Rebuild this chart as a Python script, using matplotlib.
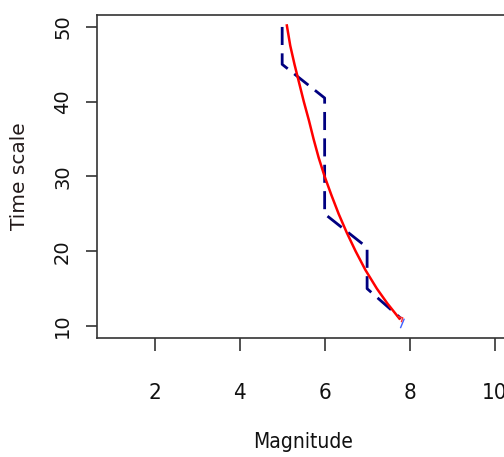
import matplotlib
matplotlib.use("Agg")
import matplotlib.pyplot as plt

# step series (blue dashed)
step_mag = [5.0, 5.0, 6.0, 6.0, 7.0, 7.0, 7.8]
step_time = [50, 45, 40.5, 25, 20.5, 15, 11]

# fitted curve (red)
fit_mag = [5.11, 5.19, 5.29, 5.40, 5.51, 5.63, 5.74, 5.86, 6.00, 6.16, 6.33, 6.52, 6.73, 6.96, 7.23, 7.48, 7.76]
fit_time = [50.2, 47.5, 45, 42.5, 40, 37.5, 35, 32.5, 30, 27.5, 25, 22.5, 20, 17.5, 15, 13, 11]

xticks = [2, 4, 6, 8, 10]
yticks = [10, 20, 30, 40, 50]

fig = plt.figure(figsize=(5.04, 4.57), dpi=100)
ax = fig.add_axes([0.1925, 0.2604, 0.819, 0.7068])

ax.plot(step_mag, step_time, color='#000080', lw=2.0, dashes=(6.5, 3))
ax.plot(fit_mag, fit_time, color='#ff0000', lw=1.8)

# tiny marks at the end of the curve
ax.plot([7.79, 7.87], [9.8, 10.9], color='#4060ff', lw=1)
ax.plot([7.74, 7.84, 7.81], [11.25, 11.1, 10.6], color='#ff3030', lw=1)

ax.set_xlim(0.64, 10.36)
ax.set_ylim(8.4, 51.6)
ax.set_xticks(xticks)
ax.set_yticks(yticks)

for s in ax.spines.values():
    s.set_color('#333333')
    s.set_linewidth(1.2)

ax.tick_params(axis='x', length=9.5, width=1.2, color='#333333', pad=23,
               labelsize=16, labelcolor='#111111')
ax.tick_params(axis='y', length=8, width=1.2, color='#333333', pad=10,
               labelsize=14, labelcolor='#111111', labelrotation=90)
for lbl in ax.get_xticklabels():
    lbl.set_stretch('condensed')
for lbl in ax.get_yticklabels():
    lbl.set_va('center')

ax.set_xlabel('Magnitude', fontsize=15, stretch='condensed', color='#111111')
ax.xaxis.set_label_coords(0.5, -0.29)
ax.set_ylabel('Time scale', fontsize=14.5, color='#221a1a')
ax.yaxis.set_label_coords(-0.165, 0.5)

fig.savefig('out.png', dpi=100)
